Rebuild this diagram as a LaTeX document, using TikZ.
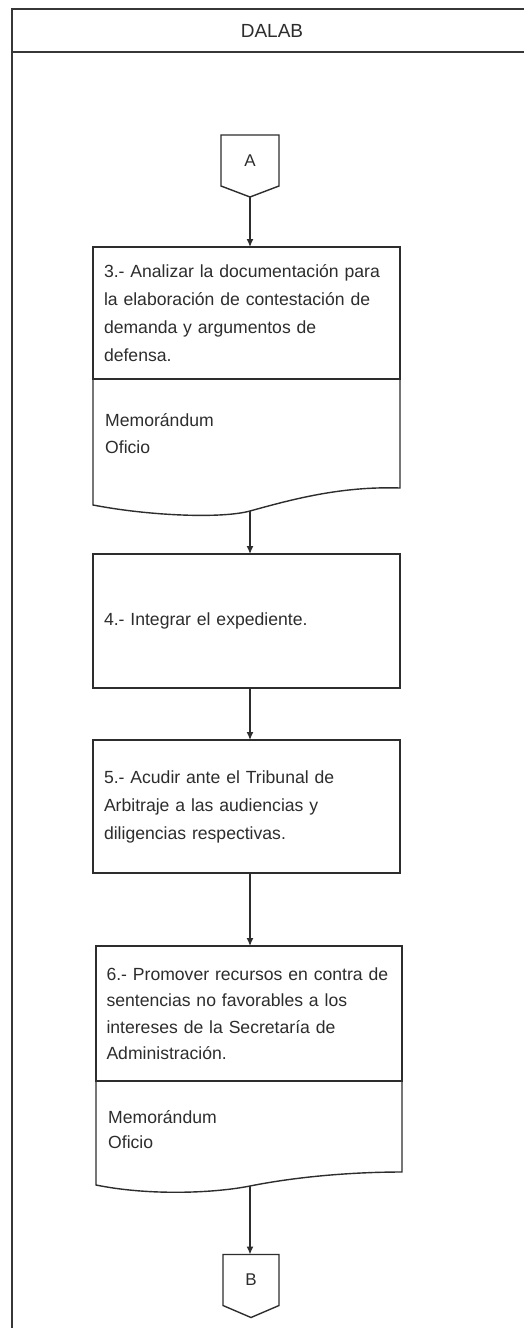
\documentclass[tikz,border=0pt]{standalone}
\usepackage{fontspec}
\setmainfont{Liberation Sans}
\usetikzlibrary{arrows.meta,calc}
\definecolor{ink}{RGB}{45,45,45}
\definecolor{frameink}{RGB}{55,55,55}
\begin{document}
\begin{tikzpicture}[x=1pt,y=-1pt,
  inkline/.style={draw=ink, line width=1.4pt, line join=miter},
  stepbox/.style={draw=ink, line width=1.4pt, anchor=north west, outer sep=0pt,
    inner xsep=0pt, inner ysep=0pt, text width=285pt, align=left,
    font=\fontsize{17.6}{28}\selectfont, text=ink},
  memotext/.style={anchor=north west, inner sep=0pt, align=left,
    font=\fontsize{17.6}{27}\selectfont, text=ink},
  flow/.style={draw=ink, line width=1.3pt, -{Latex[length=8pt,width=7pt]}},
  offpage/.style={minimum width=#1, minimum height=51pt, inner sep=0pt, outer sep=0pt,
    font=\fontsize{17}{20}\selectfont, text=ink},
]
\useasboundingbox (0,0) rectangle (524,1328);
\fill[white] (0,0) rectangle (524,1328);

% swimlane frame and header
\draw[frameink, line width=2pt] (524,9) -- (12,9) -- (12,1332);
\draw[frameink, line width=2pt] (12,52) -- (524,52);
\node[text=ink, font=\fontsize{19}{22}\selectfont] (lane) at (272,31) {DALAB};

% off-page connector A
\node[offpage=58pt] (conA) at (250,160.5) {A};
\coordinate (conAtip) at ($(conA.south)+(0,11)$);
\draw[inkline] (conA.north west) -- (conA.north east) -- (conA.south east)
  -- (conAtip) -- (conA.south west) -- cycle;

% step 3 with its documents
\node[stepbox, minimum width=307pt, minimum height=132pt] (s3) at (93,247)
  {3.- Analizar la documentación para\\la elaboración de contestación de\\demanda y argumentos de\\defensa.};
\draw[inkline] (s3.south east) -- (400,488)
  .. controls (340,486) and (290,500) .. (250,511) coordinate (w3)
  .. controls (222,518.7) and (150,516) .. (93,505) -- (s3.south west);
\node[memotext] (m3) at (105,413) {Memorándum\\Oficio};

% step 4
\node[stepbox, minimum width=307pt, minimum height=134pt] (s4) at (93,554)
  {4.- Integrar el expediente.};

% step 5
\node[stepbox, minimum width=307pt, minimum height=133pt] (s5) at (93,740)
  {5.- Acudir ante el Tribunal de\\Arbitraje a las audiencias y\\diligencias respectivas.};

% step 6 with its documents
\node[stepbox, minimum width=306pt, minimum height=135pt, font=\fontsize{17.6}{26.5}\selectfont] (s6) at (96,946)
  {\mbox{6.- Promover recursos en contra de}\\sentencias no favorables a los\\intereses de la Secretaría de\\Administración.};
\draw[inkline] (s6.south east) -- (402,1172)
  .. controls (350,1172) and (295,1177) .. (250,1186) coordinate (w6)
  .. controls (215,1193) and (150,1196) .. (96,1185) -- (s6.south west);
\node[memotext, font=\fontsize{17.6}{25}\selectfont] (m6) at (108,1110) {Memorándum\\Oficio};

% off-page connector B
\node[offpage=56pt] (conB) at (251,1280) {B};
\coordinate (conBtip) at ($(conB.south)+(0,12)$);
\draw[inkline] (conB.north west) -- (conB.north east) -- (conB.south east)
  -- (conBtip) -- (conB.south west) -- cycle;

% flow connectors
\draw[flow] (conAtip) -- (conAtip |- s3.north);
\draw[flow] (w3) -- (w3 |- s4.north);
\draw[flow] (s4.south -| conAtip) -- (s5.north -| conAtip);
\draw[flow] (s5.south -| conAtip) -- (s6.north -| conAtip);
\draw[flow] (w6) -- (w6 |- conB.north);
\end{tikzpicture}
\end{document}
